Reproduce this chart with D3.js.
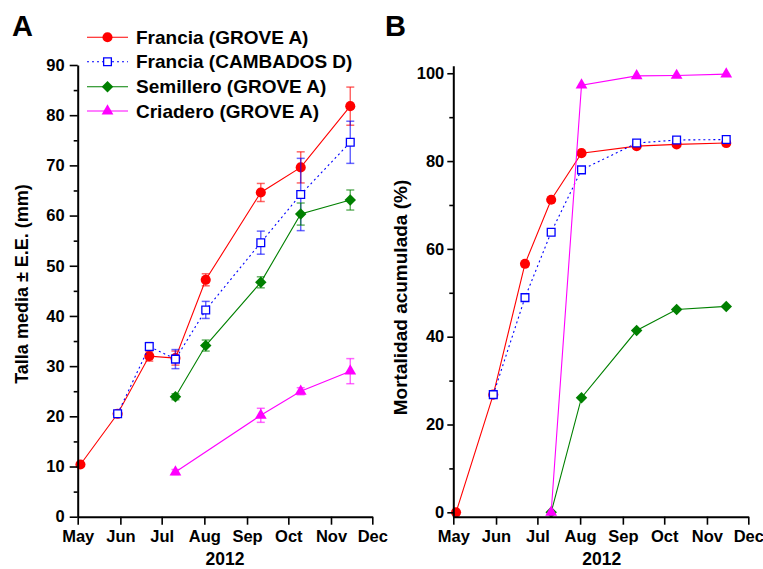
<!DOCTYPE html>
<html>
<head>
<meta charset="utf-8">
<script src="https://cdn.jsdelivr.net/npm/d3@7"></script>
<style>
body{margin:0;background:#fff}
svg{font-family:"Liberation Sans",Arial,sans-serif;font-weight:bold}
</style>
</head>
<body>
<svg id="chart" width="763" height="569"></svg>
<script>
var parseDay=d3.utcParse("%Y-%m-%d")

// fechas de muestreo
var sampleDates=["2012-05-03","2012-05-30","2012-06-22","2012-07-11","2012-08-02","2012-09-11","2012-10-10","2012-11-15"]
var monthTicks=["2012-05-01","2012-06-01","2012-07-01","2012-08-01","2012-09-01","2012-10-01","2012-11-01","2012-12-01"]

// A: talla media (mm) y error estandar (null = sin dato)
var tallaFranciaGrove=[10.4,20.5,32.0,31.6,47.2,64.6,69.6,81.8]
var errFranciaGrove=[0.3,0.4,1.0,1.4,1.2,1.8,3.1,3.8]
var tallaFranciaCambados=[null,20.5,33.9,31.4,41.2,54.6,64.2,74.6]
var errFranciaCambados=[null,0.4,0.8,1.9,1.7,2.3,7.2,4.2]
var tallaSemillero=[null,null,null,23.9,34.1,46.7,60.3,63.1]
var errSemillero=[null,null,null,0.6,1.1,1.1,2.2,2.0]
var tallaCriadero=[null,null,null,8.9,null,20.2,25.0,29.0]
var errCriadero=[null,null,null,0.5,null,1.4,0.7,2.5]

// B: mortalidad acumulada (%)
var mortFranciaGrove=[0,26.8,56.6,71.2,81.8,83.4,83.8,84.1]
var mortFranciaCambados=[null,26.8,48.9,63.8,78.0,84.1,84.8,84.9]
var mortSemillero=[null,null,null,0,26.1,41.4,46.2,46.9]
var mortCriadero=[null,null,null,0,97.3,99.4,99.5,99.8]

var seriesNames=["Francia (GROVE A)","Francia (CAMBADOS D)","Semillero (GROVE A)","Criadero (GROVE A)"]
var tallaTicks=[0,10,20,30,40,50,60,70,80,90]
var tallaMinor=[5,15,25,35,45,55,65,75,85]
var mortTicks=[0,20,40,60,80,100]
var mortMinor=[10,30,50,70,90]

var colors=["#ff0000","#0000ff","#008000","#ff00ff"]
var dashes=[null,"2,3",null,null]
var shapes=["circle","square","diamond","triangle"]

var svg=d3.select("#chart")
var dates=sampleDates.map(parseDay)
var months=monthTicks.map(parseDay)

function marker(sel,shape,color){
	if(shape=="circle"){
		sel.append("path").attr("d",d3.symbol(d3.symbolCircle,80)()).attr("fill",color)
	}else if(shape=="square"){
		sel.append("path").attr("d",d3.symbol(d3.symbolSquare,60)()).attr("fill","#fff").attr("stroke",color).attr("stroke-width",1.3)
	}else if(shape=="diamond"){
		sel.append("path").attr("d",d3.symbol(d3.symbolSquare,66)()).attr("transform","rotate(45)").attr("fill",color)
	}else{
		sel.append("path").attr("d",d3.symbol(d3.symbolTriangle,60)()).attr("fill",color)
	}
}

function drawPanel(opt){
	var x=d3.scaleUtc().domain([months[0],months[7]]).range(opt.xr)
	var y=d3.scaleLinear().domain(opt.yd).range(opt.yr)
	var g=svg.append("g")

	var line=d3.line()
	.defined(d=>d.v!==null)
	.x(d=>x(d.date))
	.y(d=>y(d.v))

	opt.series.forEach((vals,k)=>{
		var pts=vals.map((v,i)=>({date:dates[i],v:v,e:opt.errs?opt.errs[k][i]:null})).filter(d=>d.v!==null)

		g.append("path")
		.datum(pts)
		.attr("fill","none")
		.attr("stroke",colors[k])
		.attr("stroke-width",1.1)
		.attr("stroke-dasharray",dashes[k])
		.attr("d",line)

		if(opt.errs){
			var eb=g.selectAll(".eb"+k)
			.data(pts.filter(d=>d.e))
			.enter()
			.append("g")
			.attr("stroke",colors[k])
			.attr("stroke-opacity",0.6)
			.attr("stroke-width",1.5)
			eb.append("line")
			.attr("x1",d=>x(d.date)).attr("x2",d=>x(d.date))
			.attr("y1",d=>y(d.v-d.e)).attr("y2",d=>y(d.v+d.e))
			eb.append("line")
			.attr("x1",d=>x(d.date)-4).attr("x2",d=>x(d.date)+4)
			.attr("y1",d=>y(d.v-d.e)).attr("y2",d=>y(d.v-d.e))
			eb.append("line")
			.attr("x1",d=>x(d.date)-4).attr("x2",d=>x(d.date)+4)
			.attr("y1",d=>y(d.v+d.e)).attr("y2",d=>y(d.v+d.e))
		}

		g.selectAll(".pt"+k)
		.data(pts)
		.enter()
		.append("g")
		.attr("transform",d=>`translate(${x(d.date)},${y(d.v)})`)
		.each(function(){marker(d3.select(this),shapes[k],colors[k])})
	})

	// ejes
	g.append("g")
	.attr("transform",`translate(0,${opt.yr[0]})`)
	.call(d3.axisBottom(x).tickValues(months).tickFormat(d3.utcFormat("%b")).tickSize(8).tickPadding(6).tickSizeOuter(0))
	g.append("g")
	.attr("transform",`translate(${opt.xr[0]},0)`)
	.call(d3.axisLeft(y).tickValues(opt.ticks).tickSize(opt.tickLen).tickPadding(opt.tickPad).tickSizeOuter(0))
	var yMinor=g.append("g")
	.attr("transform",`translate(${opt.xr[0]},0)`)
	.call(d3.axisLeft(y).tickValues(opt.minor).tickSize(4).tickFormat("").tickSizeOuter(0))
	yMinor.select(".domain").remove()

	g.selectAll(".domain").attr("stroke-width",2).attr("stroke","#000")
	g.selectAll(".tick line").attr("stroke-width",1.6).attr("stroke","#000")
	g.selectAll(".tick text").attr("font-size",16.5).attr("font-weight","bold").attr("font-family","Liberation Sans, Arial, sans-serif").attr("fill","#000")

	g.append("text")
	.attr("x",opt.yearPos[0]).attr("y",opt.yearPos[1])
	.attr("text-anchor","middle")
	.attr("font-size",17.5)
	.text("2012")

	g.append("text")
	.attr("transform",`translate(${opt.titlePos[0]},${opt.titlePos[1]}) rotate(-90)`)
	.attr("text-anchor","middle")
	.attr("dominant-baseline","central")
	.attr("font-size",opt.titleSize)
	.text(opt.title)

	g.append("text")
	.attr("x",opt.letterPos[0]).attr("y",opt.letterPos[1])
	.attr("font-size",29)
	.text(opt.letter)
}

drawPanel({
	xr:[77.7,372.3],yd:[0,90],yr:[516.7,65],
	series:[tallaFranciaGrove,tallaFranciaCambados,tallaSemillero,tallaCriadero],
	errs:[errFranciaGrove,errFranciaCambados,errSemillero,errCriadero],
	ticks:tallaTicks,minor:tallaMinor,tickLen:8,tickPad:5,
	title:"Talla media ± E.E. (mm)",titleSize:18,titlePos:[22,284],
	yearPos:[225,565],letter:"A",letterPos:[12,36]
})

drawPanel({
	xr:[453.3,748.3],yd:[-1,101.7],yr:[516.7,65.8],
	series:[mortFranciaGrove,mortFranciaCambados,mortSemillero,mortCriadero],
	errs:null,
	ticks:mortTicks,minor:mortMinor,tickLen:6,tickPad:3,
	title:"Mortalidad acumulada (%)",titleSize:19,titlePos:[400,297.5],
	yearPos:[601.7,565],letter:"B",letterPos:[385,36]
})

// leyenda
var legend=svg.append("g")
var legendY=[37.3,61.7,86.7,111]
seriesNames.forEach((name,k)=>{
	var row=legend.append("g").attr("transform",`translate(0,${legendY[k]})`)
	row.append("line")
	.attr("x1",87).attr("x2",128)
	.attr("stroke",colors[k])
	.attr("stroke-width",1.1)
	.attr("stroke-dasharray",dashes[k])
	var m=row.append("g").attr("transform","translate(107.5,0)")
	marker(m,shapes[k],colors[k])
	row.append("text")
	.attr("x",136)
	.attr("dominant-baseline","central")
	.attr("font-size",19)
	.text(name)
})
</script>
</body>
</html>
